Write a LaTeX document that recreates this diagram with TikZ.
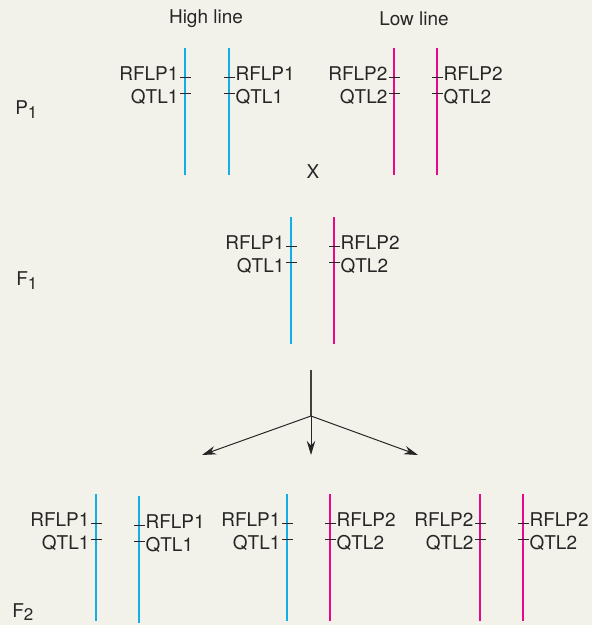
\documentclass[tikz,border=0pt]{standalone}
\usepackage{fontspec}
\setmainfont{TeX Gyre Heros}
\usepackage{xcolor}
\usetikzlibrary{arrows.meta}

\definecolor{hiblue}{HTML}{12AEE8}
\definecolor{lopink}{HTML}{E8088C}
\definecolor{paper}{HTML}{F2F1EA}

\begin{document}
\begin{tikzpicture}[
  x=0.025cm, y=-0.025cm,
  chrom/.style={line width=2pt},
  tick/.style={line width=0.6pt, black!85},
  lbl/.style={font=\fontsize{13.5}{15}\selectfont, inner sep=0.6pt, text=black!85},
  gen/.style={font=\fontsize{13.5}{15}\selectfont, inner sep=0pt, anchor=base west, text=black!85},
  arr/.style={-{Stealth[length=10pt,width=6pt]}, line width=0.7pt, black!85}
]

%% Paper
\fill[paper] (0,0) rectangle (592,625);
\useasboundingbox (0,0) rectangle (592,625);

%% Headings
\node[lbl] (high) at (206,19) {High line};
\node[lbl] (low)  at (414,19) {Low line};
\node[lbl] (cross) at (313,172) {X};

%% Generations
\node[gen] (p1) at (15,114) {P\raisebox{-0.5ex}{\fontsize{12}{12}\selectfont 1}};
\node[gen] (f1) at (16,285) {F\raisebox{-0.5ex}{\fontsize{12}{12}\selectfont 1}};
\node[gen] (f2) at (12,617) {F\raisebox{-0.4ex}{\fontsize{12}{12}\selectfont 2}};

%% Chromosomes: name/x/top/colour/label anchor/side/number
\foreach \n/\x/\y/\col/\an/\sg/\num in {
    pa/185/48/hiblue/east/-1/1, pb/229/48/hiblue/west/1/1,
    pc/394/48/lopink/east/-1/2, pd/437/48/lopink/west/1/2,
    fa/291/217/hiblue/east/-1/1, fb/334/217/lopink/west/1/2,
    ga/96/494/hiblue/east/-1/1, gb/139/496/hiblue/west/1/1,
    gc/287/494/hiblue/east/-1/1, gd/330/494/lopink/west/1/2,
    ge/480/494/lopink/east/-1/2, gf/523/494/lopink/west/1/2} {
  \draw[chrom, \col] (\x,\y) -- (\x,\y+127);
  \draw[tick] (\x-5,\y+29.5) -- (\x+6,\y+29.5);
  \draw[tick] (\x-5,\y+45) -- (\x+6,\y+45);
  \node[lbl, anchor=\an] (\n-r) at (\x+5.5*\sg,\y+26) {RFLP\num};
  \node[lbl, anchor=\an] (\n-q) at (\x+5.5*\sg,\y+48.5) {QTL\num};
}

%% Segregation arrows
\coordinate (stem) at (311,370);
\coordinate (fork) at (311,416);
\coordinate (left) at (202,455);
\coordinate (mid)  at (311,455);
\coordinate (right) at (418,455);
\draw[line width=1pt, black!75] (stem) -- (fork);
\draw[arr] (fork) -- (mid);
\draw[arr] (fork) -- (left);
\draw[arr] (fork) -- (right);

\end{tikzpicture}
\end{document}
